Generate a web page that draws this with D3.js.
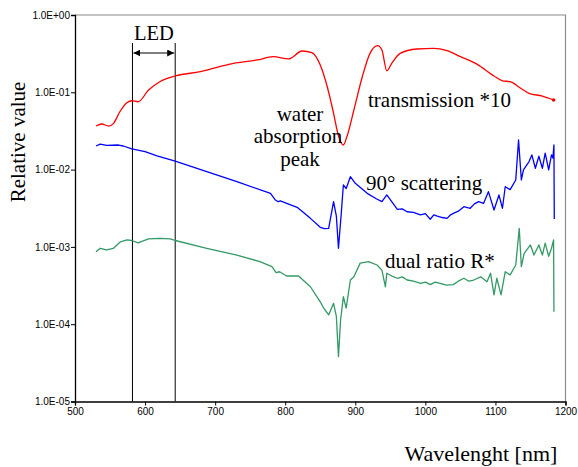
<!DOCTYPE html>
<html>
<head>
<meta charset="utf-8">
<script src="https://cdn.jsdelivr.net/npm/d3@7"></script>
<style>
    body { margin: 0; background: #fff; }
    .tick text { font-family: "Liberation Sans", Arial, sans-serif; font-size: 10px; fill: #000; }
</style>
</head>
<body>
<div id="grafico"></div>
<script>
// wavelength [nm] / value pairs
var transmission = [
    [530, 0.0366], [538, 0.0389], [548, 0.0366], [555, 0.0397], [564, 0.056], [574, 0.0733],
    [581, 0.0778], [590, 0.0755], [605, 0.107], [621, 0.137], [643, 0.1625], [679, 0.185],
    [726, 0.237], [760, 0.262], [783, 0.289], [805, 0.270], [824, 0.342], [838, 0.326],
    [850, 0.2255], [860, 0.118], [869, 0.0535], [876, 0.0272], [883, 0.0208], [888, 0.0266],
    [898, 0.059], [910, 0.159], [921, 0.319], [932, 0.401], [938, 0.352], [945, 0.190],
    [952, 0.237], [964, 0.319], [988, 0.363], [1012, 0.371], [1031, 0.345], [1050, 0.289],
    [1074, 0.230], [1098, 0.1625], [1110, 0.141], [1121, 0.137], [1136, 0.113], [1148, 0.097],
    [1167, 0.0895], [1183, 0.0795]
];
var scattering = [
    [530, 0.0202], [536, 0.0214], [545, 0.0206], [562, 0.0208], [569, 0.0202], [581, 0.0185],
    [600, 0.0171], [617, 0.0151], [643, 0.0129], [688, 0.0094], [731, 0.00697], [779, 0.00493],
    [786, 0.00404], [790, 0.00384], [793, 0.00393], [817, 0.00325], [836, 0.00234], [850, 0.00179],
    [856, 0.00172], [862, 0.00174], [869, 0.00385], [873, 0.0025], [876, 0.00096], [880, 0.00272],
    [883, 0.00632], [887, 0.0057], [893, 0.0081], [900, 0.00665], [917, 0.00493], [930, 0.0042],
    [938, 0.00385], [945, 0.0047], [952, 0.00385], [960, 0.00306], [967, 0.0031], [974, 0.00285],
    [983, 0.0028], [993, 0.00259], [1000, 0.0027], [1007, 0.00228], [1012, 0.0026], [1017, 0.0025],
    [1024, 0.0024], [1031, 0.00234], [1036, 0.0026], [1040, 0.00272], [1047, 0.0029], [1055, 0.00331],
    [1064, 0.00316], [1070, 0.0036], [1076, 0.00385], [1083, 0.00365], [1090, 0.00518], [1098, 0.0030],
    [1105, 0.0047], [1110, 0.00316], [1114, 0.0060], [1121, 0.0055], [1129, 0.00734], [1133, 0.0242],
    [1137, 0.00734], [1140, 0.0099], [1148, 0.0127], [1152, 0.0155], [1157, 0.0104], [1162, 0.0149],
    [1167, 0.0104], [1171, 0.0163], [1176, 0.0099], [1180, 0.0155], [1182, 0.0141], [1183.5, 0.0208],
    [1184, 0.0023]
];
var dualRatio = [
    [530, 0.000867], [536, 0.00096], [545, 0.000912], [555, 0.00096], [564, 0.00115], [574, 0.00123],
    [581, 0.00121], [590, 0.00113], [605, 0.00127], [621, 0.00129], [636, 0.00127], [643, 0.00121],
    [688, 0.00096], [731, 0.000785], [764, 0.000644], [781, 0.000555], [787, 0.000464], [792, 0.000477],
    [802, 0.00042], [819, 0.00042], [836, 0.000305], [850, 0.000195], [855, 0.000161], [862, 0.000132],
    [869, 0.000186], [873, 0.000126], [876, 0.000038], [879, 0.000113], [883, 0.000227], [887, 0.000161],
    [893, 0.000373], [898, 0.00041], [907, 0.000617], [919, 0.000644], [931, 0.000583], [938, 0.0005],
    [943, 0.000305], [945, 0.000457], [952, 0.00042], [960, 0.000393], [967, 0.00041], [974, 0.000373],
    [983, 0.00036], [993, 0.000338], [1000, 0.00035], [1007, 0.000325], [1014, 0.00035], [1021, 0.000338],
    [1030, 0.00032], [1040, 0.000325], [1047, 0.00036], [1055, 0.000393], [1062, 0.00036], [1069, 0.000373],
    [1079, 0.00041], [1088, 0.000355], [1093, 0.000457], [1098, 0.000239], [1102, 0.000393], [1108, 0.000239],
    [1114, 0.000478], [1121, 0.000435], [1129, 0.000583], [1134, 0.00174], [1137, 0.000555], [1141, 0.000826],
    [1150, 0.00106], [1155, 0.000785], [1162, 0.00106], [1167, 0.000785], [1171, 0.00112], [1176, 0.000755],
    [1180, 0.00096], [1183, 0.00123], [1183.5, 0.000145]
];

var xTicks = [500, 600, 700, 800, 900, 1000, 1100, 1200];
var yTicks = [1, 0.1, 0.01, 0.001, 0.0001, 0.00001];
var yTickLabels = ["1.0E+00", "1.0E-01", "1.0E-02", "1.0E-03", "1.0E-04", "1.0E-05"];
var led = [582, 643];

var serif = "'Liberation Serif', 'Times New Roman', Times, serif";
var w = 578, h = 467;
var margin = {top: 15, right: 12.5, bottom: 65.5, left: 75};
var width = w - margin.left - margin.right;
var height = h - margin.top - margin.bottom;

var svg = d3.select("#grafico").append("svg")
        .attr("width", w)
        .attr("height", h);

var x = d3.scaleLinear().domain([500, 1200]).range([0, width]);
var y = d3.scaleLog().domain([1e-5, 1]).range([height, 0]);

var g = svg.append("g")
        .attr("transform", "translate(" + margin.left + "," + margin.top + ")");

// frame top / right in gray
g.append("path")
        .attr("d", "M0,0H" + width + "V" + height)
        .attr("fill", "none")
        .attr("stroke", "#8c8c8c")
        .attr("stroke-width", 1.2);

g.append("g")
        .attr("class", "axis axis--x")
        .attr("transform", "translate(0," + height + ")")
        .call(d3.axisBottom(x).tickValues(xTicks).tickSize(4).tickPadding(2).tickFormat(d3.format("d")))
        .call(function (a) { a.selectAll("path, line").attr("stroke", "#000"); a.select(".domain").attr("stroke-width", 1.3); });

g.append("g")
        .attr("class", "axis axis--y")
        .call(d3.axisLeft(y).tickValues(yTicks).tickSize(4).tickPadding(1)
                .tickFormat(function (d, i) { return yTickLabels[i]; }))
        .call(function (a) { a.selectAll("path, line").attr("stroke", "#000"); a.select(".domain").attr("stroke-width", 1.3); });

// LED band
var ledTop = 28;
svg.append("defs").append("marker")
        .attr("id", "flecha")
        .attr("viewBox", "0 0 10 10")
        .attr("refX", 10).attr("refY", 5)
        .attr("markerWidth", 7).attr("markerHeight", 7)
        .attr("markerUnits", "userSpaceOnUse")
        .attr("orient", "auto-start-reverse")
        .append("path")
        .attr("d", "M0,0L10,5L0,10Z")
        .attr("fill", "#000");

g.selectAll(".led")
        .data(led)
        .enter().append("line")
        .attr("class", "led")
        .attr("x1", function (d) { return x(d); })
        .attr("x2", function (d) { return x(d); })
        .attr("y1", ledTop)
        .attr("y2", height)
        .attr("stroke", "#000")
        .attr("stroke-width", 1);

g.append("line")
        .attr("x1", x(led[0]) + 1).attr("x2", x(led[1]) - 1)
        .attr("y1", 38).attr("y2", 38)
        .attr("stroke", "#000")
        .attr("stroke-width", 1.2)
        .attr("marker-start", "url(#flecha)")
        .attr("marker-end", "url(#flecha)");

g.append("text")
        .attr("x", (x(led[0]) + x(led[1])) / 2)
        .attr("y", 24.5)
        .attr("text-anchor", "middle")
        .style("font-family", serif)
        .style("font-size", "20.5px")
        .text("LED");

// series
var line = d3.line()
        .x(function (d) { return x(d[0]); })
        .y(function (d) { return y(d[1]); });

var series = [
    {datos: transmission, color: "#ff0000", curva: d3.curveMonotoneX},
    {datos: scattering, color: "#0000ff", curva: d3.curveLinear},
    {datos: dualRatio, color: "#339966", curva: d3.curveLinear}
];

g.selectAll(".serie")
        .data(series)
        .enter().append("path")
        .attr("class", "serie")
        .attr("fill", "none")
        .attr("stroke", function (d) { return d.color; })
        .attr("stroke-width", 1.3)
        .attr("stroke-linejoin", "round")
        .attr("d", function (d) { return line.curve(d.curva)(d.datos); });

// little end dot on the red curve
var ultimo = transmission[transmission.length - 1];
g.append("circle")
        .attr("cx", x(ultimo[0]))
        .attr("cy", y(ultimo[1]))
        .attr("r", 1.8)
        .attr("fill", "#ff0000");

// labels
var textos = [
    {t: "water", x: 300, y: 121, a: "middle"},
    {t: "absorption", x: 298, y: 143, a: "middle"},
    {t: "peak", x: 300, y: 166, a: "middle"},
    {t: "transmission *10", x: 368, y: 107, a: "start"},
    {t: "90° scattering", x: 366, y: 190, a: "start"},
    {t: "dual ratio R*", x: 385, y: 268, a: "start"}
];
svg.selectAll(".nota")
        .data(textos)
        .enter().append("text")
        .attr("class", "nota")
        .attr("x", function (d) { return d.x; })
        .attr("y", function (d) { return d.y; })
        .attr("text-anchor", function (d) { return d.a; })
        .style("font-family", serif)
        .style("font-size", "21px")
        .style("fill", "#000")
        .text(function (d) { return d.t; });

svg.append("text")
        .attr("transform", "translate(25,142) rotate(-90)")
        .attr("text-anchor", "middle")
        .style("font-family", serif)
        .style("font-size", "21px")
        .text("Relative value");

svg.append("text")
        .attr("x", 481)
        .attr("y", 461)
        .attr("text-anchor", "middle")
        .style("font-family", serif)
        .style("font-size", "22px")
        .text("Wavelenght [nm]");
</script>
</body>
</html>
